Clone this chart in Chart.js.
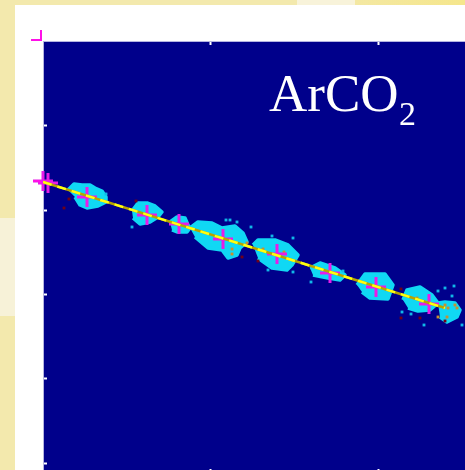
<!DOCTYPE html>
<html>
<head>
<meta charset="utf-8">
<title>ArCO2</title>
<script src="https://cdn.jsdelivr.net/npm/chart.js@4"></script>
<style>
  html, body { margin: 0; height: 100%; overflow: hidden; }
  body {
    background:
      linear-gradient(#f7f2d8, #f7f2d8) 0 218px / 15px 98px no-repeat,
      linear-gradient(#f8f3da, #f8f3da) 297px 0 / 58px 5px no-repeat,
      linear-gradient(90deg, #f3e9ad 0 65%, #f5e68c 100%);
  }
  #panel { position: absolute; left: 15px; top: 5px; right: 0; bottom: 0; background: #fff; }
  #plot { position: absolute; left: 0; top: 0; filter: blur(0.5px); }
</style>
</head>
<body>
<div id="panel"></div>
<canvas id="plot" width="465" height="470"></canvas>
<script>
// -------------------- Data --------------------
const xTicks = [167, 335];
const yTicks = [0, 85, 169, 253, 338];

// outlines of the dense hit clusters, [x, y]
const clusterA = [[25,273],[31,279],[39,278],[47,278],[52,275],[59,272],[63,266],[63,261],[55,257],[44,255],[37,258],[32,266]];
const clusterB = [[89,252],[95,260],[104,260],[112,257],[119,251],[115,246],[107,241],[97,239],[90,245]];
const clusterC = [[127,241],[134,246],[142,245],[145,238],[147,235],[144,231],[134,231],[129,233]];
const clusterD = [[147,235],[155,241],[169,240],[179,235],[192,237],[200,230],[204,221],[197,215],[194,208],[185,205],[179,213],[165,215],[152,226]];
const clusterE = [[210,218],[215,223],[232,223],[245,218],[255,208],[249,198],[244,193],[229,195],[215,205]];
const clusterF = [[267,195],[277,200],[292,195],[302,188],[297,183],[285,185],[270,188]];
const clusterG = [[314,178],[322,189],[342,189],[350,178],[345,164],[327,165],[319,171]];
const clusterH = [[360,163],[364,173],[377,176],[389,168],[395,160],[387,153],[375,152],[365,155]];
const clusterI = [[395,160],[402,161],[412,160],[417,153],[414,146],[404,141],[397,146]];
const clusters = [clusterA, clusterB, clusterC, clusterD, clusterE, clusterF, clusterG, clusterH, clusterI];

const strayHits = [[89,236],[63,269],[183,243],[187,243],[194,241],[208,236],[229,227],[250,225],[225,193],[250,191],[268,181],[300,192],[359,151],[368,149],[395,172],[402,175],[411,177],[409,167],[381,138],[419,138]];
const orangeHits = [[189,214],[189,209],[204,220],[220,214],[241,211],[374,165],[402,158],[405,155],[395,146],[404,146],[412,158],[414,155]];
const darkHits = [[21,255],[26,264],[93,262],[199,206],[215,202],[358,174],[358,145],[377,145],[402,142]];

const crossPoints = [[0,282],[5,280],[44,266],[104,248],[136,239],[180,224],[234,209],[287,190],[333,176],[386,159]];
const fitLine = [[0,281],[402,155]];
// x runs backwards on purpose: Chart.js would otherwise drop the points left of the axis
const cornerMark = [[-2,433],[-2,423],[-12,423]];
const startMark = [[-2,280],[-4,282],[-10,282]];

// -------------------- Helpers --------------------
const toPoints = (pairs) => pairs.map(([x, y]) => ({ x, y }));

function hits(pairs, color, order) {
  return { data: toPoints(pairs), order, pointStyle: "rect", pointRadius: 2, backgroundColor: color, borderWidth: 0 };
}

function mark(pairs) {
  return { data: toPoints(pairs), order: 0, showLine: true, borderColor: "#ff10e8", borderWidth: 2, pointRadius: 0, clip: false };
}

// -------------------- Plugins --------------------
const plotBackground = {
  id: "plotBackground",
  beforeDraw(chart) {
    const { ctx, chartArea: a } = chart;
    ctx.fillStyle = "#00008b";
    ctx.fillRect(a.left, a.top, a.width, a.height);
  },
};

const gasLabel = {
  id: "gasLabel",
  afterDraw(chart) {
    const { ctx } = chart;
    ctx.save();
    ctx.fillStyle = "#fff";
    ctx.textBaseline = "alphabetic";
    ctx.font = '53px "Liberation Serif"';
    ctx.fillText("ArCO", 269, 111);
    ctx.font = '34px "Liberation Serif"';
    ctx.fillText("2", 399, 125);
    ctx.restore();
  },
};

// -------------------- Chart --------------------
const axisLine = { color: "#b4b4e0", width: 1 };
const noLabels = { display: false };

function xAxis(position, tickLength) {
  return {
    type: "linear", position, min: 0, max: 422,
    border: axisLine,
    grid: { drawOnChartArea: false, tickColor: "#fff", tickWidth: 2, tickLength },
    ticks: noLabels,
    afterBuildTicks: (s) => { s.ticks = xTicks.map((value) => ({ value })); },
    afterFit: (s) => { s.height = 0; },
  };
}

// higher order is painted first
new Chart(document.getElementById("plot"), {
  type: "scatter",
  data: {
    datasets: [
      ...clusters.map((c) => ({
        data: toPoints(c), order: 6, showLine: true, fill: "shape", pointRadius: 0,
        borderColor: "#10d8f4", borderWidth: 3.5, borderJoinStyle: "round", backgroundColor: "#10d8f4",
      })),
      hits(strayHits, "#10b8e8", 5),
      hits(darkHits, "#700018", 5),
      hits(orangeHits, "#c89030", 4),
      {
        data: toPoints(crossPoints), order: 3, pointStyle: "cross", pointRadius: 10,
        borderColor: "#e81ce8", borderWidth: 3, clip: false,
      },
      { data: toPoints(fitLine), order: 2, showLine: true, borderColor: "#b8a400", borderWidth: 2.5, pointRadius: 0 },
      { data: toPoints(fitLine), order: 1, showLine: true, borderColor: "#ffff10", borderWidth: 2.5, borderDash: [9, 6], pointRadius: 0 },
      mark(cornerMark),
      mark(startMark),
    ],
  },
  options: {
    responsive: false,
    animation: false,
    layout: { autoPadding: false, padding: { left: 43, top: 41, right: 0, bottom: 0 } },
    plugins: { legend: { display: false }, tooltip: { enabled: false } },
    scales: {
      x: xAxis("bottom", -1),
      xTop: xAxis("top", -4),
      y: {
        type: "linear", position: "left", min: -7, max: 422,
        border: axisLine,
        grid: { drawOnChartArea: false, tickColor: "#fff", tickWidth: 2, tickLength: -4 },
        ticks: noLabels,
        afterBuildTicks: (s) => { s.ticks = yTicks.map((value) => ({ value })); },
        afterFit: (s) => { s.width = 0; },
      },
    },
  },
  plugins: [plotBackground, gasLabel],
});
</script>
</body>
</html>
